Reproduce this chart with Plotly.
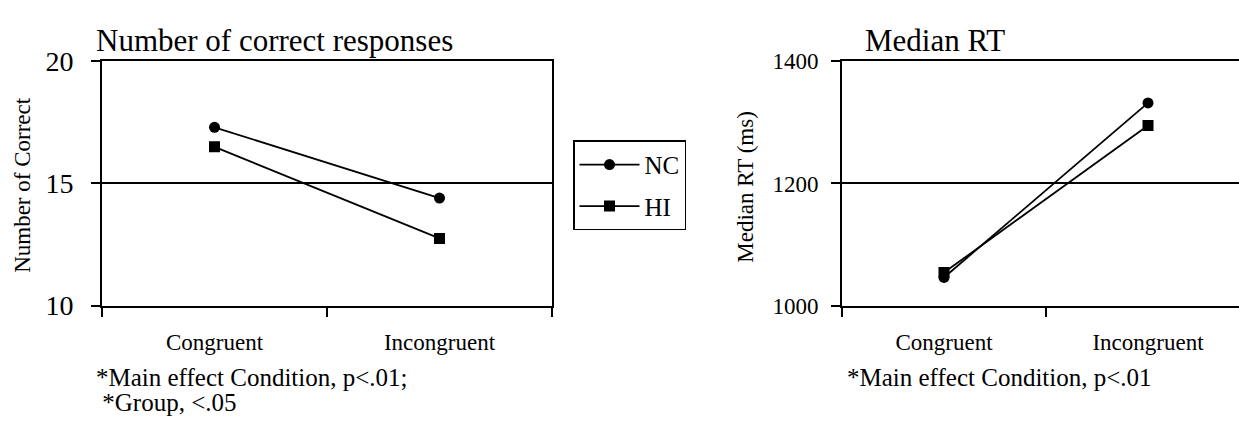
import plotly.graph_objects as go

W, H = 1239, 432
FONT = "Liberation Serif, Times New Roman, serif"

conditions = ["Congruent", "Incongruent"]
groups = ["NC", "HI"]
correct_nc = [17.3, 14.4]
correct_hi = [16.5, 12.75]
rt_nc = [1046, 1332]
rt_hi = [1054, 1295]
correct_ticks = [10, 15, 20]
rt_ticks = [1000, 1200, 1400]

symbols = {"NC": "circle", "HI": "square"}

def px(x):
    return x / W

def py(y):
    return 1 - y / H

fig = go.Figure()
for g, vals in zip(groups, [correct_nc, correct_hi]):
    fig.add_trace(go.Scatter(x=conditions, y=vals, name=g, mode="lines+markers",
                             legendgroup=g,
                             line=dict(color="black", width=1.8),
                             marker=dict(symbol=symbols[g], size=11, color="black"),
                             xaxis="x", yaxis="y", showlegend=True))
for g, vals in zip(groups, [rt_nc, rt_hi]):
    fig.add_trace(go.Scatter(x=conditions, y=vals, name=g, mode="lines+markers",
                             legendgroup=g,
                             line=dict(color="black", width=1.8),
                             marker=dict(symbol=symbols[g], size=11, color="black"),
                             xaxis="x2", yaxis="y2", showlegend=False))

axis_common = dict(showline=True, linecolor="black", linewidth=2, ticks="outside",
                   ticklen=9, tickwidth=2, tickcolor="black", zeroline=False)

fig.update_layout(
    width=W, height=H, margin=dict(l=0, r=0, t=0, b=0),
    paper_bgcolor="white", plot_bgcolor="white",
    font=dict(family=FONT, color="black"),
    xaxis=dict(domain=[px(102), px(552)], type="category", range=[-0.5, 1.5],
               tickson="boundaries", mirror=True, showgrid=False,
               tickfont=dict(size=23, family=FONT, color="black"),
               ticklabelstandoff=15, anchor="y", **axis_common),
    yaxis=dict(domain=[py(313), py(50)], range=[10, 20], tickvals=correct_ticks,
               mirror=True, showgrid=True, gridcolor="black", gridwidth=1.5,
               tickfont=dict(size=28, family=FONT, color="black"),
               ticklabelstandoff=12, anchor="x", **axis_common),
    xaxis2=dict(domain=[px(842), 1.0], type="category", range=[-0.5, 1.446],
                tickson="boundaries", mirror=True, showgrid=False,
                tickfont=dict(size=23, family=FONT, color="black"),
                ticklabelstandoff=15, anchor="y2", **axis_common),
    yaxis2=dict(domain=[py(313), py(50)], range=[1000, 1400], tickvals=rt_ticks,
                mirror=False, showgrid=True, gridcolor="black", gridwidth=1.5,
                tickfont=dict(size=23, family=FONT, color="black"),
                ticklabelstandoff=8, anchor="x2", **axis_common),
    legend=dict(x=px(573), y=py(135), xanchor="left", yanchor="top",
                bordercolor="black", borderwidth=1.5, bgcolor="white",
                font=dict(size=25, family=FONT, color="black"),
                traceorder="grouped", tracegroupgap=6, itemwidth=60),
    showlegend=True,
)

annots = [
    ("Number of correct responses", 94, 27, 31, 0, "left"),
    ("Median RT", 863, 27, 31, 0, "left"),
    ("*Main effect Condition, p&lt;.01;", 94, 390, 25, 0, "left"),
    (" *Group, &lt;.05", 94, 417, 25, 0, "left"),
    ("*Main effect Condition, p&lt;.01", 845, 390, 25, 0, "left"),
    ("Number of Correct", 23, 183, 23, -90, "center"),
    ("Median RT (ms)", 746, 185, 23, -90, "center"),
]
for text, x, y, s, ang, xa in annots:
    fig.add_annotation(text=text, x=px(x), y=py(y), xref="paper", yref="paper",
                       xanchor=xa, yanchor="middle", showarrow=False, textangle=ang,
                       font=dict(size=s, family=FONT, color="black"))

fig.write_html("out.html", config={"displayModeBar": False},
               post_script="document.body.style.margin='0';")
